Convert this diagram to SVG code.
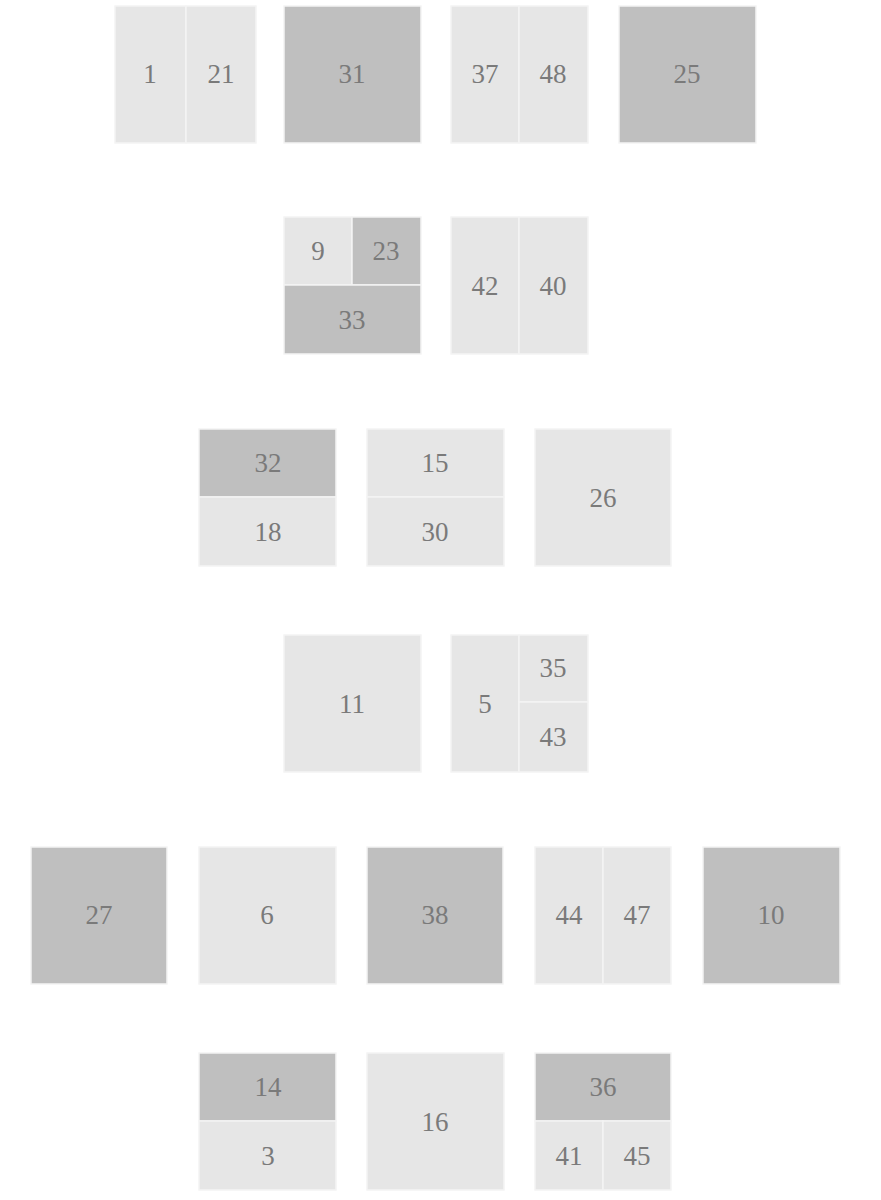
<svg xmlns="http://www.w3.org/2000/svg" width="881" height="1200" viewBox="0 0 881 1200">
<style>
.l{fill:#e6e6e6;stroke:#f4f4f4;stroke-width:1.5}
.d{fill:#bfbfbf;stroke:#f4f4f4;stroke-width:1.5}
text{font-family:"Liberation Serif","Noto Serif",serif;font-size:27px;fill:#7a7a7a;text-anchor:middle;dominant-baseline:central}
</style>
<rect width="881" height="1200" fill="#ffffff"/>
<g id="n1"><rect class="l" x="115" y="6" width="71" height="137"/><text x="150" y="74">1</text></g>
<g id="n21"><rect class="l" x="186" y="6" width="70" height="137"/><text x="221" y="74">21</text></g>
<g id="n31"><rect class="d" x="284" y="6" width="137" height="137"/><text x="352" y="74">31</text></g>
<g id="n37"><rect class="l" x="451" y="6" width="68" height="137"/><text x="485" y="74">37</text></g>
<g id="n48"><rect class="l" x="519" y="6" width="69" height="137"/><text x="553" y="74">48</text></g>
<g id="n25"><rect class="d" x="619" y="6" width="137" height="137"/><text x="687" y="74">25</text></g>

<g id="n9"><rect class="l" x="284" y="217" width="68" height="68"/><text x="318" y="251">9</text></g>
<g id="n23"><rect class="d" x="352" y="217" width="69" height="68"/><text x="386" y="251">23</text></g>
<g id="n33"><rect class="d" x="284" y="285" width="137" height="69"/><text x="352" y="320">33</text></g>
<g id="n42"><rect class="l" x="451" y="217" width="68" height="137"/><text x="485" y="286">42</text></g>
<g id="n40"><rect class="l" x="519" y="217" width="69" height="137"/><text x="553" y="286">40</text></g>

<g id="n32"><rect class="d" x="199" y="429" width="137" height="68"/><text x="268" y="463">32</text></g>
<g id="n18"><rect class="l" x="199" y="497" width="137" height="69"/><text x="268" y="532">18</text></g>
<g id="n15"><rect class="l" x="367" y="429" width="137" height="68"/><text x="435" y="463">15</text></g>
<g id="n30"><rect class="l" x="367" y="497" width="137" height="69"/><text x="435" y="532">30</text></g>
<g id="n26"><rect class="l" x="535" y="429" width="136" height="137"/><text x="603" y="498">26</text></g>

<g id="n11"><rect class="l" x="284" y="635" width="137" height="137"/><text x="352" y="704">11</text></g>
<g id="n5"><rect class="l" x="451" y="635" width="68" height="137"/><text x="485" y="704">5</text></g>
<g id="n35"><rect class="l" x="519" y="635" width="69" height="67"/><text x="553" y="668">35</text></g>
<g id="n43"><rect class="l" x="519" y="702" width="69" height="70"/><text x="553" y="737">43</text></g>

<g id="n27"><rect class="d" x="31" y="847" width="136" height="137"/><text x="99" y="915">27</text></g>
<g id="n6"><rect class="l" x="199" y="847" width="137" height="137"/><text x="267" y="915">6</text></g>
<g id="n38"><rect class="d" x="367" y="847" width="136" height="137"/><text x="435" y="915">38</text></g>
<g id="n44"><rect class="l" x="535" y="847" width="68" height="137"/><text x="569" y="915">44</text></g>
<g id="n47"><rect class="l" x="603" y="847" width="68" height="137"/><text x="637" y="915">47</text></g>
<g id="n10"><rect class="d" x="703" y="847" width="137" height="137"/><text x="771" y="915">10</text></g>

<g id="n14"><rect class="d" x="199" y="1053" width="137" height="68"/><text x="268" y="1087">14</text></g>
<g id="n3"><rect class="l" x="199" y="1121" width="137" height="69"/><text x="268" y="1156">3</text></g>
<g id="n16"><rect class="l" x="367" y="1053" width="137" height="137"/><text x="435" y="1122">16</text></g>
<g id="n36"><rect class="d" x="535" y="1053" width="136" height="68"/><text x="603" y="1087">36</text></g>
<g id="n41"><rect class="l" x="535" y="1121" width="68" height="69"/><text x="569" y="1156">41</text></g>
<g id="n45"><rect class="l" x="603" y="1121" width="68" height="69"/><text x="637" y="1156">45</text></g>
<g id="connectors"></g>
</svg>
